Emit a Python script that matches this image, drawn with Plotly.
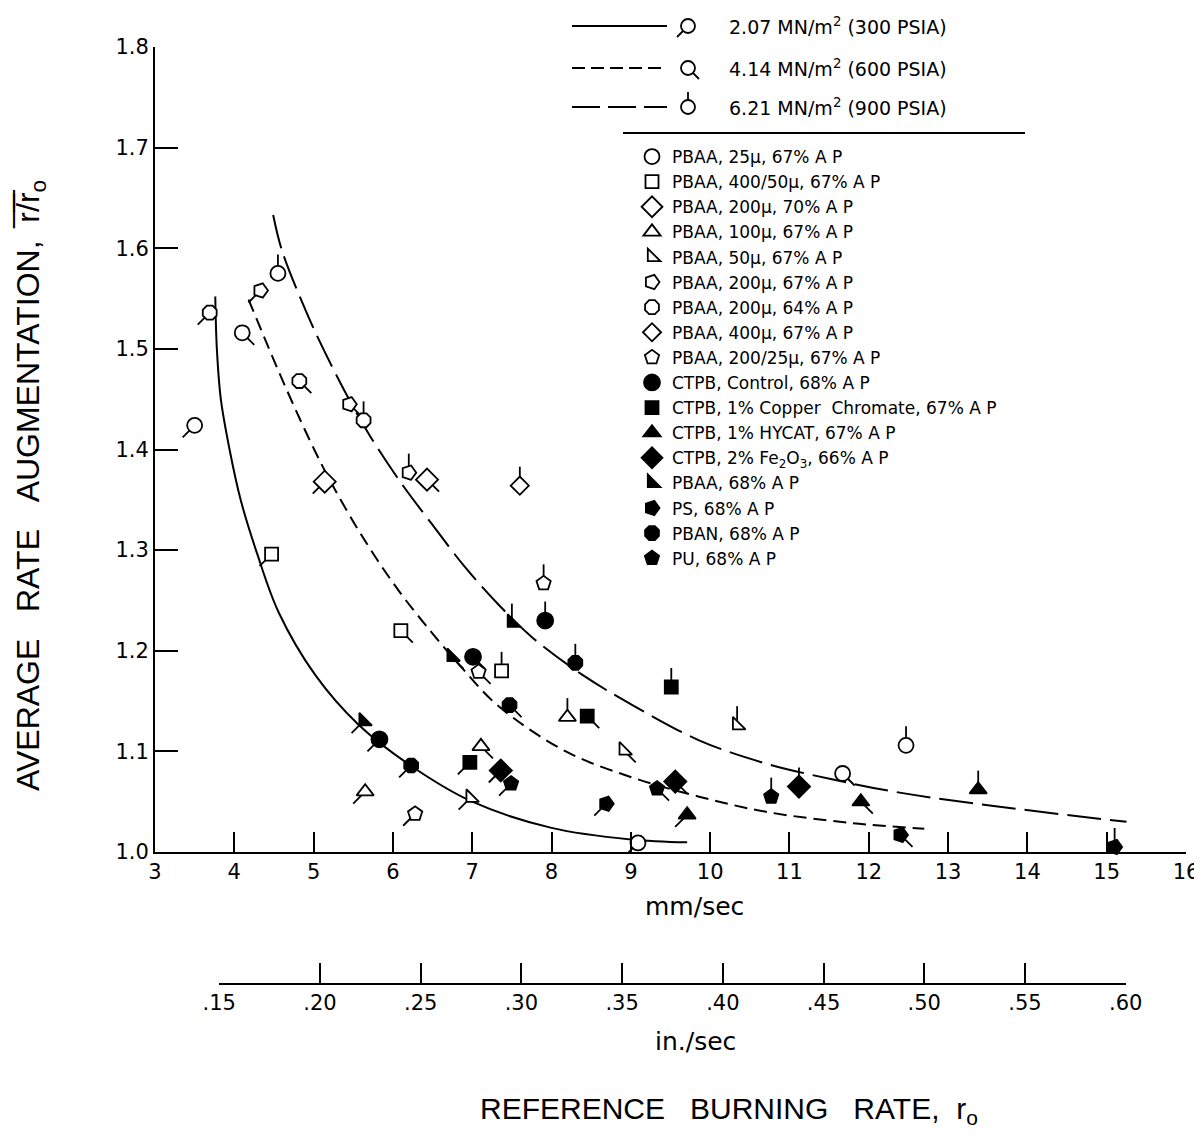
import plotly.graph_objects as go

# ---------------- data ----------------
series_names = [
    "PBAA, 25\u03bc, 67% A P",
    "PBAA, 400/50\u03bc, 67% A P",
    "PBAA, 200\u03bc, 70% A P",
    "PBAA, 100\u03bc, 67% A P",
    "PBAA, 50\u03bc, 67% A P",
    "PBAA, 200\u03bc, 67% A P",
    "PBAA, 200\u03bc, 64% A P",
    "PBAA, 400\u03bc, 67% A P",
    "PBAA, 200/25\u03bc, 67% A P",
    "CTPB, Control, 68% A P",
    "CTPB, 1% Copper  Chromate, 67% A P",
    "CTPB, 1% HYCAT, 67% A P",
    "CTPB, 2% Fe<sub>2</sub>O<sub>3</sub>, 66% A P",
    "PBAA, 68% A P",
    "PS, 68% A P",
    "PBAN, 68% A P",
    "PU, 68% A P",
]
# burning rate r0 (mm/sec)
series_x = [
    [3.50, 4.10, 4.55, 9.09, 11.67, 12.47],
    [4.47, 6.10, 7.37],
    [5.14, 6.43],
    [5.65, 7.11, 8.20],
    [6.98, 8.91, 10.34],
    [4.33, 5.45, 6.20],
    [3.69, 4.82, 5.63],
    [7.60],
    [6.28, 7.08, 7.90],
    [5.83, 7.01, 7.92],
    [6.97, 8.45, 9.51],
    [9.71, 11.90, 13.38],
    [7.36, 9.56, 11.12],
    [5.63, 6.74, 7.50],
    [8.69, 12.40, 15.10],
    [6.23, 7.47, 8.30],
    [7.49, 9.33, 10.77],
]
# average rate augmentation r/r0
series_y = [
    [1.424, 1.516, 1.575, 1.009, 1.078, 1.106],
    [1.296, 1.220, 1.180],
    [1.368, 1.370],
    [1.060, 1.105, 1.134],
    [1.054, 1.101, 1.126],
    [1.558, 1.445, 1.377],
    [1.536, 1.468, 1.429],
    [1.364],
    [1.038, 1.179, 1.267],
    [1.112, 1.194, 1.230],
    [1.089, 1.135, 1.164],
    [1.037, 1.050, 1.062],
    [1.081, 1.070, 1.065],
    [1.130, 1.194, 1.228],
    [1.048, 1.017, 1.005],
    [1.086, 1.146, 1.188],
    [1.068, 1.063, 1.055],
]
# chamber pressure (psia) of each point
series_p = [
    [300, 600, 900, 300, 600, 900],
    [300, 600, 900],
    [300, 600],
    [300, 600, 900],
    [300, 600, 900],
    [300, 600, 900],
    [300, 600, 900],
    [900],
    [300, 600, 900],
    [300, 600, 900],
    [300, 600, 900],
    [300, 600, 900],
    [300, 600, 900],
    [300, 600, 900],
    [300, 600, 900],
    [300, 600, 900],
    [300, 600, 900],
]

# fitted curves
curve300_x = [3.76, 3.78, 3.83, 3.94, 4.08, 4.29, 4.56, 5.02, 5.56, 6.24, 7.00, 8.00, 9.00, 9.71]
curve300_y = [1.552, 1.500, 1.450, 1.400, 1.350, 1.296, 1.238, 1.176, 1.127, 1.085, 1.050, 1.024, 1.0125, 1.0096]
curve600_x = [4.18, 4.64, 5.02, 5.27, 5.65, 6.07, 6.49, 6.87, 7.33, 8.18, 9.02, 9.86, 10.70, 11.76, 12.70]
curve600_y = [1.549, 1.463, 1.398, 1.360, 1.309, 1.260, 1.218, 1.183, 1.145, 1.100, 1.074, 1.055, 1.040, 1.029, 1.023]
curve900_x = [4.49, 4.60, 4.89, 5.14, 5.48, 5.73, 6.11, 6.49, 6.91, 7.33, 7.76, 8.39, 9.02, 9.86, 10.70, 11.55, 12.39, 13.65, 15.25]
curve900_y = [1.633, 1.598, 1.540, 1.497, 1.445, 1.411, 1.366, 1.326, 1.283, 1.246, 1.213, 1.176, 1.146, 1.111, 1.088, 1.072, 1.059, 1.045, 1.030]

pressure_labels = [
    "2.07 MN/m<sup>2</sup> (300 PSIA)",
    "4.14 MN/m<sup>2</sup> (600 PSIA)",
    "6.21 MN/m<sup>2</sup> (900 PSIA)",
]

in_ticks = [0.15, 0.20, 0.25, 0.30, 0.35, 0.40, 0.45, 0.50, 0.55, 0.60]
in_ticktext = [".15", ".20", ".25", ".30", ".35", ".40", ".45", ".50", ".55", ".60"]
MM_PER_IN = 25.4

# ---------------- styles ----------------
series_symbol = ["circle", "square", "diamond", "triangle-up", "triangle-sw", "pentagon",
                 "octagon", "diamond", "pentagon", "circle", "square", "triangle-up",
                 "diamond", "triangle-sw", "pentagon", "octagon", "pentagon"]
series_angle = [0, 0, 0, 0, 0, 90, 0, 0, 0, 0, 0, 0, 0, 0, 90, 0, 0]
series_filled = [False] * 9 + [True] * 8
series_size = [15, 13, 17, 15, 14, 15, 15, 14, 15, 16, 13, 15, 17, 14, 15, 15, 15]

# page has an 8px body margin: figure is drawn 8px right/down of the page origin
OFF = 8
W, H = 1202 - OFF, 1138 - OFF
PLOT_L, PLOT_R, PLOT_T, PLOT_B = 155, 1186, 47, 1118  # page pixels
ML, MR, MT, MB = PLOT_L - OFF, W - (PLOT_R - OFF), PLOT_T - OFF, H - (PLOT_B - OFF)
PW = W - ML - MR
PH = H - MT - MB
AXIS_PX = 852
IN_AXIS_PX = 983
X0, X1 = 3, 16
Y0, Y1 = 1.0, 1.8


def fx(px):
    return (px - PLOT_L) / PW


def fy(py):
    return (PLOT_B - py) / PH


px_per_x = PW / (X1 - X0)
px_per_y = (AXIS_PX - PLOT_T) / (Y1 - Y0)
TAIL = {300: (-12, -12), 600: (12, -12), 900: (0, 19)}  # pixel offsets, +y up

FONT_A = "DejaVu Sans"
FONT_B = "Liberation Sans"

fig = go.Figure()

# fitted curves
for cx, cy, dash in [(curve300_x, curve300_y, "solid"),
                     (curve600_x, curve600_y, "13px,7px"),
                     (curve900_x, curve900_y, "34px,9px")]:
    fig.add_trace(go.Scatter(x=cx, y=cy, mode="lines", showlegend=False,
                             line=dict(color="black", width=2, dash=dash, shape="spline", smoothing=1.0),
                             hoverinfo="skip"))

# pressure tails
tx, ty = [], []
for xs, ys, ps in zip(series_x, series_y, series_p):
    for x, y, p in zip(xs, ys, ps):
        dx, dy = TAIL[p]
        tx += [x, x + dx / px_per_x, None]
        ty += [y, y + dy / px_per_y, None]
fig.add_trace(go.Scatter(x=tx, y=ty, mode="lines", showlegend=False, hoverinfo="skip",
                         line=dict(color="black", width=1.8), cliponaxis=False))

# data markers
for i, name in enumerate(series_names):
    filled = series_filled[i]
    fig.add_trace(go.Scatter(
        x=series_x[i], y=series_y[i], mode="markers", name=name, cliponaxis=False,
        marker=dict(symbol=series_symbol[i], angle=series_angle[i], size=series_size[i],
                    color="black" if filled else "white",
                    line=dict(color="black", width=1.8)),
    ))

# secondary (in./sec) axis on its own thin subplot, aligned with the mm/sec scale
in_dom = [(in_ticks[0] * MM_PER_IN - X0) / (X1 - X0), (in_ticks[-1] * MM_PER_IN - X0) / (X1 - X0)]
fig.add_trace(go.Scatter(x=[in_ticks[0], in_ticks[-1]], y=[0, 0], xaxis="x2", yaxis="y2",
                         mode="markers", marker=dict(opacity=0), showlegend=False, hoverinfo="skip"))

shapes = []
annotations = []

# pressure legend (top)
rows = [26, 68, 107]
dashes = ["solid", "13px,6px", "28px,8px"]
tail_px = [((-5, 5), (-11, 11)), ((5, 5), (11, 11)), ((0, -7), (0, -15))]
for r, d, lab, tp in zip(rows, dashes, pressure_labels, tail_px):
    shapes.append(dict(type="line", xref="paper", yref="paper", x0=fx(572), x1=fx(667), y0=fy(r), y1=fy(r),
                       line=dict(color="black", width=2, dash=d)))
    shapes.append(dict(type="circle", xref="paper", yref="paper", x0=fx(681), x1=fx(695),
                       y0=fy(r + 7), y1=fy(r - 7), line=dict(color="black", width=1.8)))
    (a, b), (c, e) = tp
    shapes.append(dict(type="line", xref="paper", yref="paper", x0=fx(688 + a), x1=fx(688 + c),
                       y0=fy(r + b), y1=fy(r + e), line=dict(color="black", width=1.8)))
    annotations.append(dict(text=lab, xref="paper", yref="paper", x=fx(727), y=fy(r), xanchor="left",
                            yanchor="middle", showarrow=False, font=dict(family=FONT_A, size=19, color="black")))
shapes.append(dict(type="line", xref="paper", yref="paper", x0=fx(623), x1=fx(1025), y0=fy(133), y1=fy(133),
                   line=dict(color="black", width=2)))

# axis titles
annotations.append(dict(
    text="AVERAGE\u00a0\u00a0\u00a0RATE\u00a0\u00a0\u00a0AUGMENTATION,\u00a0\u00a0r\u0305/\u0305r\u0305<sub>o</sub>",
    xref="paper", yref="paper", x=fx(30), y=fy(486), xanchor="center", yanchor="middle",
    textangle=-90, showarrow=False, font=dict(family=FONT_B, size=32, color="black")))
annotations.append(dict(text="mm/sec", xref="paper", yref="paper", x=fx(694), y=fy(906),
                        xanchor="center", yanchor="middle", showarrow=False,
                        font=dict(family=FONT_A, size=25, color="black")))
annotations.append(dict(text="in./sec", xref="paper", yref="paper", x=fx(695), y=fy(1041),
                        xanchor="center", yanchor="middle", showarrow=False,
                        font=dict(family=FONT_A, size=25, color="black")))
annotations.append(dict(text="REFERENCE\u00a0\u00a0\u00a0BURNING\u00a0\u00a0\u00a0RATE,\u00a0\u00a0r<sub>o</sub>",
                        xref="paper", yref="paper", x=fx(478), y=fy(1110),
                        xanchor="left", yanchor="middle", showarrow=False,
                        font=dict(family=FONT_B, size=30, color="black")))

tickfont = dict(family=FONT_A, size=21, color="black")
fig.update_layout(
    width=W, height=H,
    margin=dict(l=ML, r=MR, t=MT, b=MB, autoexpand=False),
    paper_bgcolor="white", plot_bgcolor="rgba(0,0,0,0)",
    showlegend=True,
    legend=dict(x=fx(632), y=fy(139), xanchor="left", yanchor="top",
                font=dict(family=FONT_A, size=17, color="black"),
                bgcolor="rgba(0,0,0,0)", borderwidth=0, tracegroupgap=0, itemwidth=30),
    xaxis=dict(range=[X0, X1], domain=[0, 1], anchor="y", tickmode="linear", tick0=3, dtick=1,
               ticks="inside", ticklen=20, tickwidth=2, tickcolor="black", showline=True, linewidth=2,
               linecolor="black", showgrid=False, zeroline=False, tickfont=tickfont),
    yaxis=dict(range=[Y0, Y1], domain=[fy(AXIS_PX), 1], anchor="x", tickmode="linear", tick0=1.0, dtick=0.1,
               tickformat=".1f",
               ticks="inside", ticklen=23, tickwidth=2, tickcolor="black", showline=True, linewidth=2,
               linecolor="black", showgrid=False, zeroline=False, tickfont=tickfont),
    xaxis2=dict(range=[in_ticks[0], in_ticks[-1]], domain=in_dom, anchor="y2",
                tickvals=in_ticks, ticktext=in_ticktext, ticks="inside", ticklen=20, tickwidth=2,
                tickcolor="black", showline=True, linewidth=2, linecolor="black", showgrid=False,
                zeroline=False, tickfont=tickfont),
    yaxis2=dict(domain=[fy(IN_AXIS_PX), fy(IN_AXIS_PX - 25)], anchor="x2", range=[0, 1], visible=False,
                showgrid=False, zeroline=False),
    shapes=shapes,
    annotations=annotations,
)

fig.write_html("out.html")
